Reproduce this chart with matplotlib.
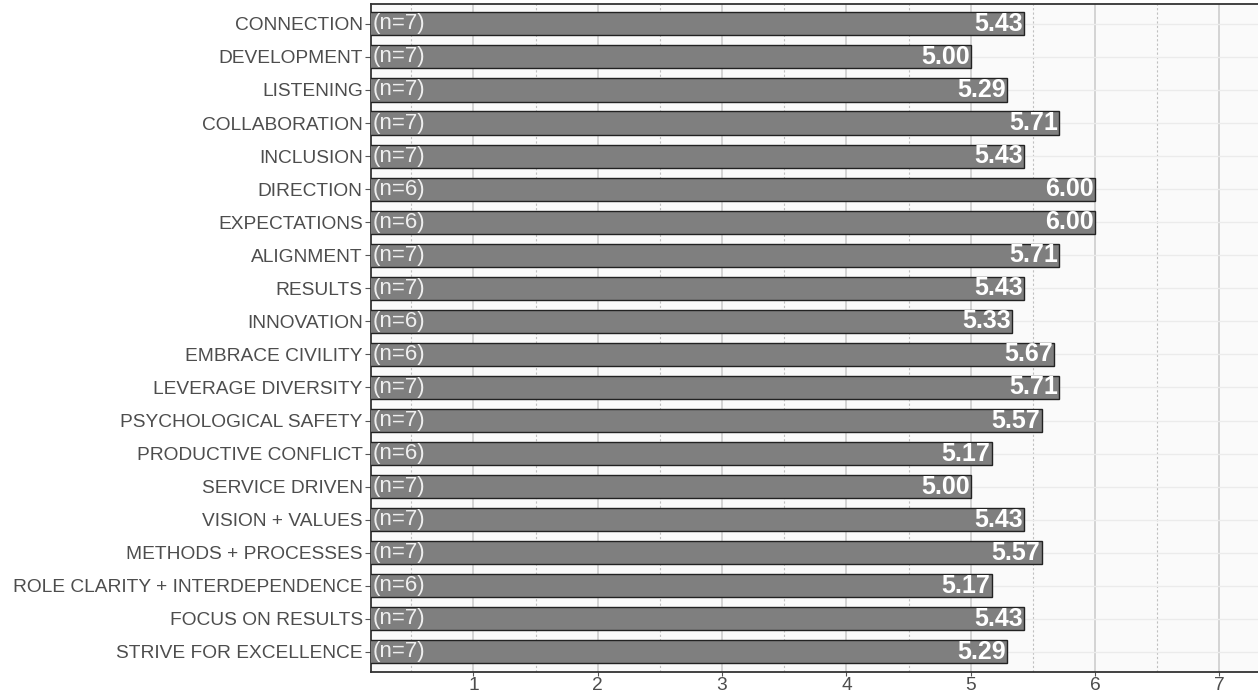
import matplotlib
matplotlib.use('Agg')
import matplotlib.pyplot as plt
from matplotlib.ticker import MultipleLocator, FixedLocator

categories = ['CONNECTION', 'DEVELOPMENT', 'LISTENING', 'COLLABORATION', 'INCLUSION',
              'DIRECTION', 'EXPECTATIONS', 'ALIGNMENT', 'RESULTS', 'INNOVATION',
              'EMBRACE CIVILITY', 'LEVERAGE DIVERSITY', 'PSYCHOLOGICAL SAFETY',
              'PRODUCTIVE CONFLICT', 'SERVICE DRIVEN', 'VISION + VALUES',
              'METHODS + PROCESSES', 'ROLE CLARITY + INTERDEPENDENCE',
              'FOCUS ON RESULTS', 'STRIVE FOR EXCELLENCE']
scores = [5.43, 5.00, 5.29, 5.71, 5.43, 6.00, 6.00, 5.71, 5.43, 5.33,
          5.67, 5.71, 5.57, 5.17, 5.00, 5.43, 5.57, 5.17, 5.43, 5.29]
counts = [7, 7, 7, 7, 7, 6, 6, 7, 7, 6, 6, 7, 7, 6, 7, 7, 7, 6, 7, 7]
xticks = [1, 2, 3, 4, 5, 6, 7]

plt.rcParams['font.family'] = ['Liberation Sans', 'DejaVu Sans']

fig = plt.figure(figsize=(12.58, 6.94), dpi=100)
ax = fig.add_axes([0.2949, 0.0321, 0.7051, 0.9621])
ax.set_facecolor('#fafafa')

ypos = list(range(len(categories)))
ax.barh(ypos, scores, height=0.7, color='#7f7f7f', edgecolor='#222222',
        linewidth=1.0, zorder=3)

xmin, xmax = 0.177, 7.31
for y, v, n in zip(ypos, scores, counts):
  ax.text(xmin + 0.01, y, '(n=%d)' % n, ha='left', va='center',
          color='#efefef', fontsize=16, zorder=4)
  ax.text(v - 0.01, y, '%.2f' % v, ha='right', va='center',
          color='white', fontsize=18, fontweight='bold', zorder=4)

ax.set_xlim(xmin, xmax)
ax.set_ylim(len(categories) - 0.4, -0.6)
ax.set_yticks(ypos)
ax.set_yticklabels(categories)
ax.xaxis.set_major_locator(FixedLocator(xticks))
ax.xaxis.set_minor_locator(FixedLocator([x - 0.5 for x in xticks]))

ax.grid(axis='x', which='major', color='#d0d0d0', linewidth=1.3, zorder=0)
ax.grid(axis='x', which='minor', color='#c0c0c0', linewidth=0.8,
        linestyle=(0, (2, 2)), zorder=0)
ax.grid(axis='y', which='major', color='#ebebeb', linewidth=1.0, zorder=0)
ax.set_axisbelow(True)

for side in ('left', 'top', 'bottom'):
  ax.spines[side].set_color('#333333')
  ax.spines[side].set_linewidth(1.3)
ax.spines['right'].set_visible(False)

ax.tick_params(axis='y', labelsize=13.8, labelcolor='#4d4d4d', length=4,
               color='#555555', pad=2)
ax.tick_params(axis='x', labelsize=13.8, labelcolor='#4d4d4d', length=3,
               color='#555555', pad=1)
ax.tick_params(axis='x', which='minor', length=0)

fig.savefig('out.png', dpi=100)
